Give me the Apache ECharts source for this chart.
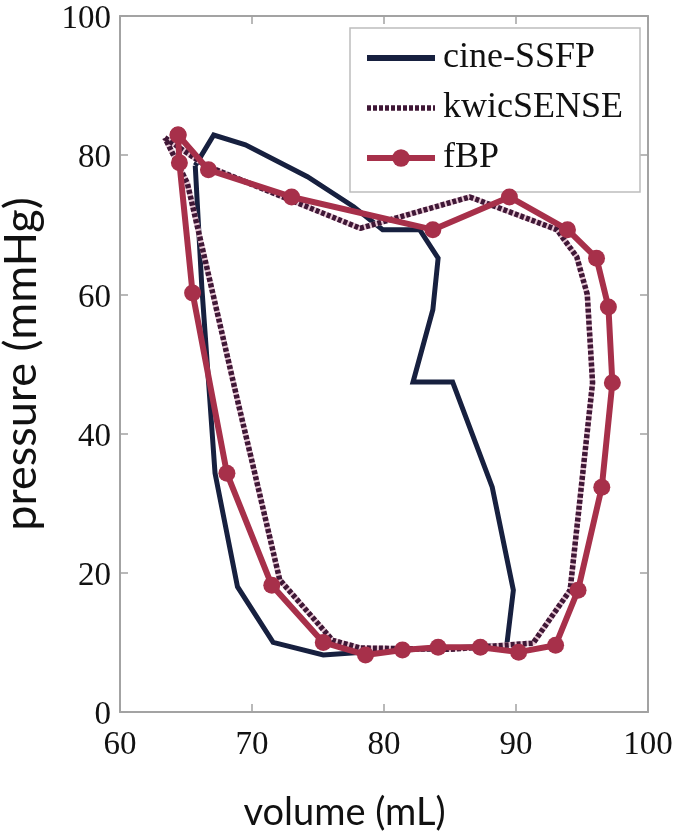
<!DOCTYPE html>
<html>
<head>
<meta charset="utf-8">
<script src="https://cdn.jsdelivr.net/npm/echarts@6/dist/echarts.min.js"></script>
<style>
html,body{margin:0;padding:0;background:#fff;}
#chart{width:685px;height:837px;}
</style>
</head>
<body>
<div id="chart"></div>
<script>
// ---- data ----
const seriesNames = ['cine-SSFP', 'kwicSENSE', 'fBP'];
const xTitle = 'volume (mL)';
const yTitle = 'pressure (mmHg)';

const cineVolume   = [65.7, 67.1, 69.5, 74.2, 77.7, 79.9, 82.7, 84.1, 83.7, 82.2, 85.2, 88.2, 89.8, 89.3, 85.0, 80.0, 75.4, 71.6, 68.9, 67.2, 66.2, 65.7];
const cinePressure = [78.5, 82.9, 81.5, 76.9, 72.6, 69.3, 69.3, 65.2, 57.8, 47.4, 47.4, 32.3, 17.5, 9.6, 9.2, 8.8, 8.2, 10.0, 18.0, 34.3, 61.0, 78.5];

const kwicVolume   = [63.4, 66.5, 73.0, 78.2, 86.5, 93.1, 94.6, 95.4, 95.8, 94.1, 91.3, 85.0, 78.2, 76.1, 72.1, 70.1, 68.9, 65.1, 63.4];
const kwicPressure = [82.5, 78.5, 73.5, 69.5, 74.0, 69.3, 65.4, 60.0, 47.3, 17.5, 9.9, 9.0, 9.2, 10.3, 19.0, 35.2, 44.8, 76.0, 82.5];

const fbpVolume   = [64.4, 66.7, 73.0, 83.7, 89.5, 93.9, 96.1, 97.0, 97.3, 96.5, 94.7, 93.0, 90.2, 87.3, 84.1, 81.4, 78.6, 75.4, 71.5, 68.1, 65.5, 64.5, 64.4];
const fbpPressure = [82.9, 77.9, 74.0, 69.3, 74.0, 69.3, 65.2, 58.2, 47.3, 32.3, 17.5, 9.6, 8.6, 9.3, 9.3, 8.9, 8.2, 10.0, 18.2, 34.3, 60.2, 78.9, 82.9];

const xMin = 60, xMax = 100, xStep = 10;
const yMin = 0, yMax = 100, yStep = 20;

function zip(a, b) { return a.map((v, i) => [v, b[i]]); }

const chart = echarts.init(document.getElementById('chart'), null, {renderer: 'canvas'});

const frameColor = '#a3a3a3';
const serif = "'Liberation Serif', 'Times New Roman', 'DejaVu Serif', serif";
const sans = "Lato, 'Open Sans', sans-serif";
const navy = '#17203f', plum = '#3f1736', crimson = '#a7304a';
const tickRich = {t: {fontFamily: serif, fontSize: 33, color: '#111'}};

const option = {
  animation: false,
  backgroundColor: '#fff',
  textStyle: {fontFamily: serif},
  grid: {left: 120, right: 37, top: 16, bottom: 125, containLabel: false, outerBoundsMode: 'none'},
  legend: {
    orient: 'vertical',
    left: 350, top: 28,
    padding: [9, 17, 13, 14],
    itemWidth: 68, itemHeight: 22, itemGap: 8,
    backgroundColor: '#fff',
    borderColor: '#bdbdbd', borderWidth: 1.5,
    textStyle: {fontFamily: serif, fontSize: 36, color: '#111', lineHeight: 42, padding: [0, 0, 0, 3]},
    data: [
      {name: seriesNames[0], itemStyle: {opacity: 0}, lineStyle: {width: 6, color: navy}},
      {name: seriesNames[1], itemStyle: {opacity: 0}, lineStyle: {width: 5.5, color: plum, type: [4, 2]}},
      {name: seriesNames[2], lineStyle: {width: 6, color: crimson}}
    ]
  },
  xAxis: [{
    type: 'value', min: xMin, max: xMax, interval: xStep,
    name: xTitle, nameLocation: 'middle', nameGap: 82,
    nameTextStyle: {fontFamily: sans, fontSize: 38, color: '#111', padding: [0, 79, 0, 0]},
    axisLine: {show: true, onZero: false, lineStyle: {color: frameColor, width: 2}},
    axisTick: {show: true, inside: true, length: 8, lineStyle: {color: frameColor, width: 1.5}},
    axisLabel: {margin: 17, fontFamily: serif, fontSize: 33, color: '#111',
      formatter: v => '{t|' + v + '}', rich: tickRich},
    splitLine: {show: false}
  }, {
    type: 'value', position: 'top', min: xMin, max: xMax, interval: xStep,
    axisLine: {show: true, onZero: false, lineStyle: {color: frameColor, width: 2}},
    axisTick: {show: true, inside: true, length: 8, lineStyle: {color: frameColor, width: 1.5}},
    axisLabel: {show: false}, splitLine: {show: false}
  }],
  yAxis: [{
    type: 'value', min: yMin, max: yMax, interval: yStep,
    name: yTitle, nameLocation: 'middle', nameGap: 76,
    nameTextStyle: {fontFamily: sans, fontSize: 45, color: '#111'},
    axisLine: {show: true, onZero: false, lineStyle: {color: frameColor, width: 2}},
    axisTick: {show: true, inside: true, length: 8, lineStyle: {color: frameColor, width: 1.5}},
    axisLabel: {margin: 9, fontFamily: serif, fontSize: 33, color: '#111', padding: [7, 0, 0, 0],
      formatter: v => '{t|' + v + '}', rich: tickRich},
    splitLine: {show: false}
  }, {
    type: 'value', position: 'right', min: yMin, max: yMax, interval: yStep,
    axisLine: {show: true, onZero: false, lineStyle: {color: frameColor, width: 2}},
    axisTick: {show: true, inside: true, length: 8, lineStyle: {color: frameColor, width: 1.5}},
    axisLabel: {show: false}, splitLine: {show: false}
  }],
  series: [
    {
      name: seriesNames[0], type: 'line', data: zip(cineVolume, cinePressure),
      symbol: 'none', z: 2,
      lineStyle: {color: navy, width: 5, join: 'miter'},
      itemStyle: {color: navy}
    },
    {
      name: 'kwic-under', type: 'line', data: zip(kwicVolume, kwicPressure),
      symbol: 'none', z: 3, silent: true,
      lineStyle: {color: '#e6c6d3', width: 5.5}
    },
    {
      name: seriesNames[1], type: 'line', data: zip(kwicVolume, kwicPressure),
      symbol: 'none', z: 4,
      lineStyle: {color: plum, width: 5.5, type: [4, 2]},
      itemStyle: {color: plum}
    },
    {
      name: seriesNames[2], type: 'line', data: zip(fbpVolume, fbpPressure),
      symbol: 'circle', symbolSize: 17, z: 5,
      lineStyle: {color: crimson, width: 6},
      itemStyle: {color: crimson}
    }
  ]
};
chart.setOption(option);
</script>
</body>
</html>
